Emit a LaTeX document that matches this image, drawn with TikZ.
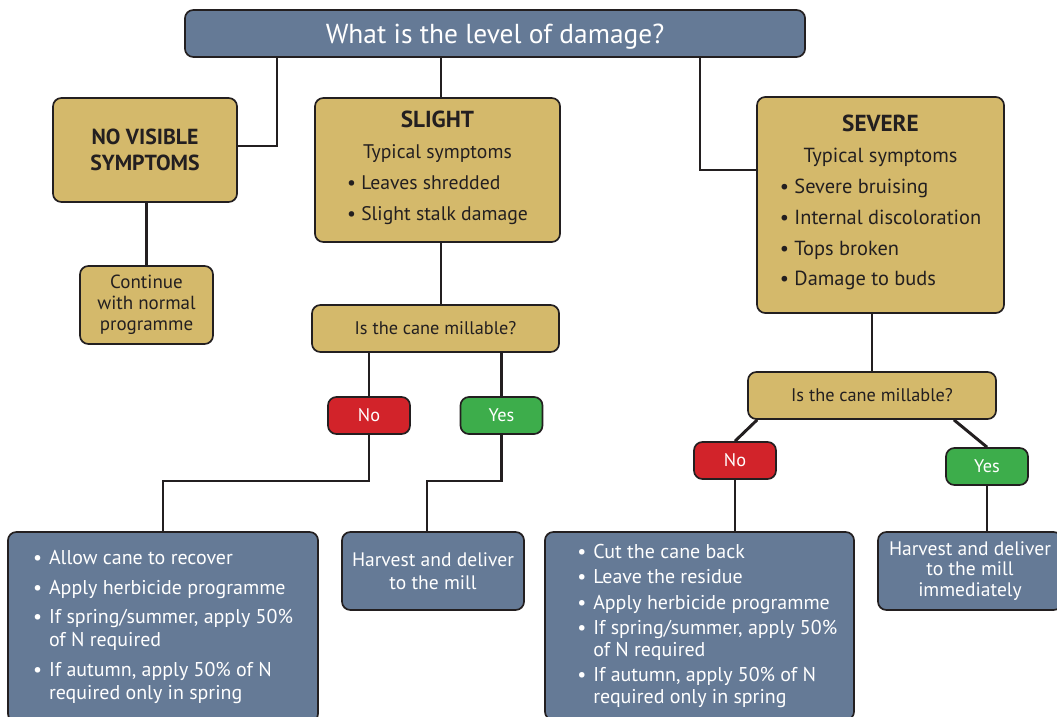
\documentclass[tikz,border=0pt]{standalone}
\usepackage{fontspec}
\setmainfont{PT Sans}
\usepackage{xcolor}
\usetikzlibrary{calc}
\definecolor{slate}{RGB}{101,122,150}
\definecolor{straw}{RGB}{212,185,107}
\definecolor{nored}{RGB}{210,35,42}
\definecolor{yesgreen}{RGB}{61,173,75}
\definecolor{ink}{RGB}{35,31,32}
\newcommand{\bul}[2][0pt]{\hspace*{#1}\makebox[0.8em][l]{\textbullet}#2}
\newcommand{\cnt}[2][0pt]{\hspace*{#1}\hspace*{0.8em}#2}

\begin{document}
\begin{tikzpicture}[x=0.025cm, y=-0.025cm,
    box/.style={draw=ink, line width=1.2pt, rounded corners=6pt, inner sep=0pt, align=center},
    tanbox/.style={box, fill=straw, text=ink},
    slatebox/.style={box, fill=slate, text=white},
    nobox/.style={box, fill=nored, text=white, minimum width=2.05cm, minimum height=0.925cm, font=\fontsize{13}{14}\selectfont},
    yesbox/.style={nobox, fill=yesgreen},
    link/.style={draw=ink, line width=2.1pt}]
    \useasboundingbox (0,0) rectangle (1057,716);

    % Question
    \node[slatebox, minimum width=15.5cm, minimum height=1.175cm, text depth=0pt, font=\fontsize{19.5}{22}\selectfont] (top) at (495,33.5) {What is the level of damage?};

    % Levels of damage
    \node[tanbox, minimum width=4.6cm, minimum height=2.6cm, font=\bfseries\fontsize{15.5}{18.5}\selectfont] (none) at (145,150) {NO VISIBLE\\SYMPTOMS};
    \node[tanbox, minimum width=6.125cm, minimum height=3.6cm, font=\fontsize{14}{22}\selectfont] (slight) at (437.5,170)
        {{\bfseries\fontsize{16.5}{22}\selectfont SLIGHT}\\ Typical symptoms\\
         \begin{tabular}[t]{@{}l@{}}\textbullet\ Leaves shredded\\ \textbullet\ Slight stalk damage\end{tabular}};
    \node[tanbox, minimum width=6.175cm, minimum height=5.4cm, font=\fontsize{14.5}{22}\selectfont] (severe) at (880.5,205)
        {{\bfseries\fontsize{16.5}{22}\selectfont SEVERE}\\ Typical symptoms\\
         \begin{tabular}[t]{@{}l@{}}\textbullet\ Severe bruising\\ \textbullet\ Internal discoloration\\
         \textbullet\ Tops broken\\ \textbullet\ Damage to buds\end{tabular}};

    % No visible symptoms
    \node[tanbox, minimum width=3.325cm, minimum height=1.95cm, font=\fontsize{13.5}{15}\selectfont] (cont) at (146.5,305) {Continue\\with normal\\programme};

    % Millable?
    \node[tanbox, minimum width=6.175cm, minimum height=1.175cm, font=\fontsize{13}{14}\selectfont] (millA) at (435.5,328.5) {Is the cane millable?};
    \node[tanbox, minimum width=6.2cm, minimum height=1.175cm, font=\fontsize{13}{14}\selectfont] (millB) at (872,395.5) {Is the cane millable?};

    \node[nobox] (noA) at (369,415.5) {No};
    \node[yesbox] (yesA) at (501.5,415.5) {Yes};
    \node[nobox] (noB) at (735,460.5) {No};
    \node[yesbox] (yesB) at (987,466.5) {Yes};

    % Actions
    \node[slatebox, align=left, minimum width=7.75cm, minimum height=4.75cm, font=\fontsize{14.2}{16.5}\selectfont] (actA) at (163,627)
        {\bul{Allow cane to recover}\\[4.5pt]
         \bul{Apply herbicide programme}\\[4.5pt]
         \bul{If spring/summer, apply 50\%}\\
         \cnt{of N required}\\[4.5pt]
         \bul{If autumn, apply 50\% of N}\\
         \cnt{required only in spring}};
    \node[slatebox, minimum width=4.55cm, minimum height=1.95cm, font=\fontsize{13.9}{16}\selectfont] (harvA) at (433,571) {Harvest and deliver\\to the mill};
    \node[slatebox, align=left, minimum width=7.725cm, minimum height=4.7cm, font=\fontsize{14.2}{15.5}\selectfont] (actB) at (699.5,626)
        {\bul[11pt]{Cut the cane back}\\[2.5pt]
         \bul[11pt]{Leave the residue}\\[2.5pt]
         \bul[11pt]{Apply herbicide programme}\\[2.5pt]
         \bul[11pt]{If spring/summer, apply 50\%}\\
         \cnt[11pt]{of N required}\\[2.5pt]
         \bul[11pt]{If autumn, apply 50\% of N}\\
         \cnt[11pt]{required only in spring}};
    \node[slatebox, minimum width=4.6cm, minimum height=1.95cm, font=\fontsize{13.9}{14.5}\selectfont] (harvB) at (970,571) {Harvest and deliver\\to the mill\\immediately};

    % Connectors
    \coordinate (kneeA) at (277,146);
    \coordinate (kneeB) at (700,170);
    \coordinate (kneeC) at (0,481);
    \draw[link] (top.south -| kneeA) -- (kneeA) -- (kneeA -| none.east);
    \draw[link] (top.south -| 441,0) -- (slight.north -| 441,0);
    \draw[link] (top.south -| kneeB) -- (kneeB) -- (kneeB -| severe.west);
    \draw[link] (none.south -| cont.north) -- (cont.north);
    \draw[link] (slight.south -| 441,0) -- (millA.north -| 441,0);
    \draw[link] (millA.south -| noA.north) -- (noA.north);
    \draw[link] (millA.south -| yesA.north) -- (yesA.north);
    \draw[link] (noA.south) |- (actA.north |- kneeC) -- (actA.north);
    \draw[link] (yesA.south) |- ($(harvA.north |- kneeC)+(-6,0)$) -- ($(harvA.north)+(-6,0)$);
    \draw[link] (severe.south -| millB.north) -- (millB.north);
    \draw[link] ($(millB.south west)+(10,0)$) -- (noB.north);
    \draw[link] ($(millB.south east)+(-43,0)$) -- (yesB.north);
    \draw[link] (noB.south) -- (noB.south |- actB.north);
    \draw[link] (yesB.south) -- (yesB.south |- harvB.north);
\end{tikzpicture}
\end{document}
